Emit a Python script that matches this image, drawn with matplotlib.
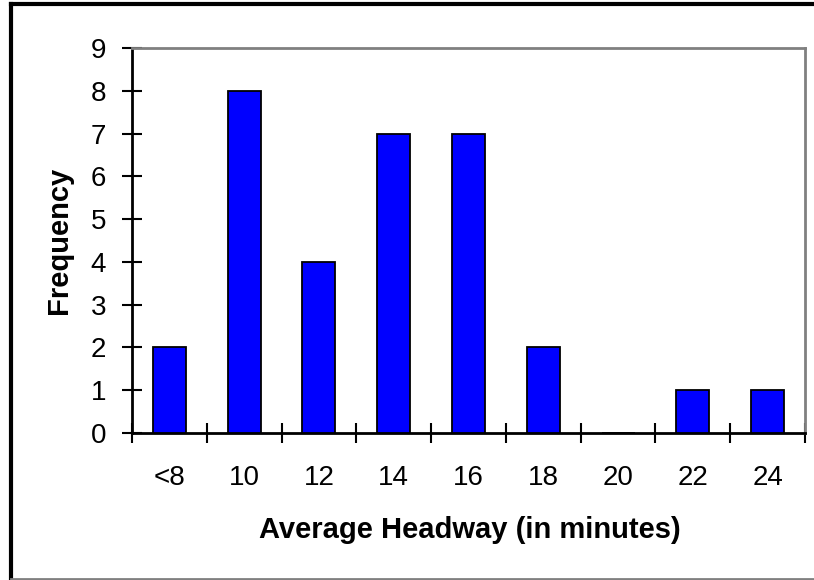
import matplotlib.pyplot as plt
import numpy as np
from matplotlib.lines import Line2D

plt.rcParams['font.family'] = ['Liberation Sans', 'DejaVu Sans']

categories = ["<8", "10", "12", "14", "16", "18", "20", "22", "24"]
frequency = [2, 8, 4, 7, 7, 2, 0, 1, 1]

fig = plt.figure(figsize=(8.14, 5.8), dpi=100)
ax = fig.add_axes([132 / 814, 1 - 433 / 580, (805 - 132) / 814, (433 - 48) / 580])

x = np.arange(len(categories))
ax.bar(x, frequency, width=0.44, color="#0000ff", edgecolor="black", linewidth=1.3, zorder=3)

ax.set_xlim(-0.5, len(categories) - 0.5)
ax.set_ylim(0, 9)
ax.set_yticks(range(0, 10))

# category labels at centres, tick marks at boundaries
ax.set_xticks(x)
ax.set_xticklabels(categories)
ax.tick_params(axis="x", which="major", length=0, pad=23, labelsize=20)
ax.set_xticks(np.arange(-0.5, len(categories)), minor=True)
ax.tick_params(axis="x", which="minor", direction="inout", length=15, width=1.5)
ax.tick_params(axis="y", direction="inout", length=15, width=1.5, pad=11, labelsize=20)

for side in ["left", "bottom"]:
    ax.spines[side].set_color("black")
    ax.spines[side].set_linewidth(2)
for side in ["top", "right"]:
    ax.spines[side].set_color("#808080")
    ax.spines[side].set_linewidth(2)

ax.set_xlabel("Average Headway (in minutes)", fontsize=21, fontweight="bold")
ax.set_ylabel("Frequency", fontsize=21, fontweight="bold")
ax.xaxis.set_label_coords(0.502, -0.215)
ax.yaxis.set_label_coords(-0.088, 0.5)

# outer chart border
fig.add_artist(Line2D([11 / 814, 11 / 814], [0.002, 1 - 4 / 580], transform=fig.transFigure, color="black", lw=3))
fig.add_artist(Line2D([11 / 814, 1], [1 - 4 / 580, 1 - 4 / 580], transform=fig.transFigure, color="black", lw=3))
fig.add_artist(Line2D([11 / 814, 1], [1.5 / 580, 1.5 / 580], transform=fig.transFigure, color="#808080", lw=2))

fig.savefig("out.png", dpi=100)
